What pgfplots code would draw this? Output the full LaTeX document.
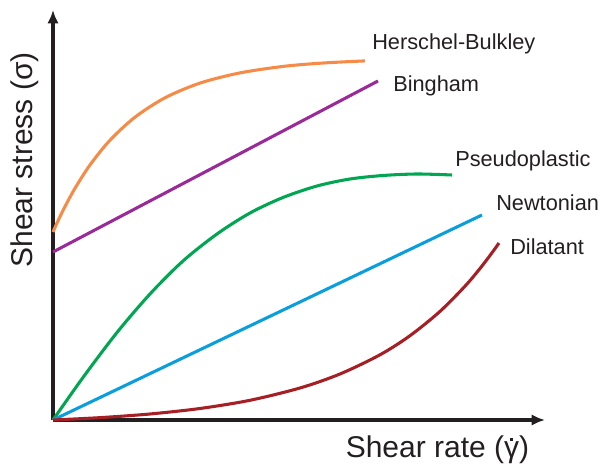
\documentclass[border=0pt]{standalone}
\usepackage{pgfplots}
\pgfplotsset{compat=1.18}
\usetikzlibrary{arrows.meta}
\usepackage{fontspec}
\setmainfont{Liberation Sans}

\definecolor{axcol}{HTML}{231F20}
\definecolor{hbcol}{HTML}{F68B47}
\definecolor{bgcol}{HTML}{9A2A98}
\definecolor{pscol}{HTML}{00A651}
\definecolor{nwcol}{HTML}{0A9EDD}
\definecolor{dlcol}{HTML}{A61F24}

% upright gamma with a dot above it
\newcommand{\gammadot}{\ooalign{γ\cr\hidewidth\raisebox{0.56em}{\rule{0.1em}{0.1em}}\hidewidth\cr}}

\begin{document}
\begin{tikzpicture}
\begin{axis}[
  scale only axis,
  width=369pt, height=307.5pt,
  xmin=53, xmax=545,
  ymin=47, ymax=457,
  axis lines=left,
  axis line style={line width=2.6pt, color=axcol, -{Latex[length=10pt,width=8.5pt]}},
  xtick=\empty, ytick=\empty,
  xlabel={Shear rate (\gammadot)},
  ylabel={Shear stress (σ)},
  xlabel style={at={(axis description cs:0.7815,-0.0927)}, anchor=base, inner sep=0pt, font=\fontsize{22.5}{26}\selectfont, color=axcol},
  ylabel style={at={(axis description cs:-0.042,0.634)}, anchor=base, inner sep=0pt, font=\fontsize{22.5}{26}\selectfont, color=axcol},
  clip=false,
  every axis plot/.append style={line width=2.3pt, smooth},
]
\path (axis cs:0,0) rectangle (axis cs:600,467);

% Herschel-Bulkley
\addplot[hbcol] coordinates {(53,235) (58,246.1) (65,260.4) (75,278.7) (90,302) (110,326.8) (135,349.8) (165,369.2) (200,383.9) (240,394.1) (285,400.8) (325,404.1) (365,406.1)};
% Bingham
\addplot[bgcol, sharp plot] coordinates {(53,215) (378,386)};
% Pseudoplastic
\addplot[pscol] coordinates {(53,47) (83,89.5) (117,134.5) (150,173) (183,206) (217,233) (250,254) (283,269.5) (317,281) (350,288) (383,291.5) (417,293) (452,292)};
% Newtonian
\addplot[nwcol, sharp plot] coordinates {(53,47) (482,252)};
% Dilatant
\addplot[dlcol] coordinates {(53,47) (100,49.35) (150,53.0) (200,58.5) (250,66.7) (300,79.0) (340,93.0) (380,112.2) (410,131.3) (440,155.6) (465,180.8) (480,198.5) (492,214.2) (499,224)};

\begin{scope}[every node/.style={anchor=base west, inner sep=0pt, font=\fontsize{16.3}{19}\selectfont, text=axcol}]
\node at (axis cs:372,417) {Herschel-Bulkley};
\node at (axis cs:393,375) {Bingham};
\node at (axis cs:455,300) {Pseudoplastic};
\node at (axis cs:496,256) {Newtonian};
\node at (axis cs:510,212) {Dilatant};
\end{scope}
\end{axis}
\end{tikzpicture}
\end{document}
